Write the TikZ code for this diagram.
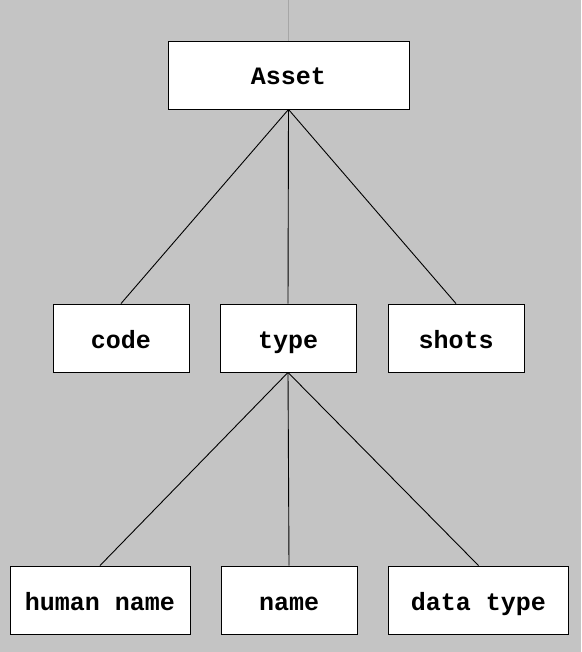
\documentclass[tikz,border=0pt]{standalone}
\usepackage{fontspec}
\setmonofont{Liberation Mono}
\definecolor{bggray}{HTML}{C4C4C4}
\begin{document}
\begin{tikzpicture}[x=1pt,y=-1pt,line width=0.9pt,every node/.style = {font=\ttfamily\bfseries\fontsize{25}{28}\selectfont}]
\tikzstyle{field} = [minimum width=136pt,minimum height=68pt,draw,fill=white,inner sep=0pt,text height=20pt,text depth=0pt];
\tikzstyle{wide} = [field,minimum width=180pt]

\fill [bggray] (0,0) rectangle (581,652);
\useasboundingbox (0,0) rectangle (581,652);

\coordinate (v0) at (288.5,0);
\node [field,minimum width=241pt] (v1) at (288.5,75) {Asset};
\draw [gray!70!white] (v0) -- (v1.north);

\node [field] (v2) at (121,338) {code};
\node [field] (v3) at (288,338) {type};
\node [field] (v4) at (456,338) {shots};
\draw (v1.south) -- (v2.north);
\draw (v1.south) -- (v3.north);
\draw (v1.south) -- (v4.north);

\node [wide] (v5) at (100,600) {human name};
\node [field] (v6) at (289,600) {name};
\node [wide] (v7) at (478.5,600) {data type};
\draw (v3.south) -- (v5.north);
\draw (v3.south) -- (v6.north);
\draw (v3.south) -- (v7.north);
\end{tikzpicture}
\end{document}
